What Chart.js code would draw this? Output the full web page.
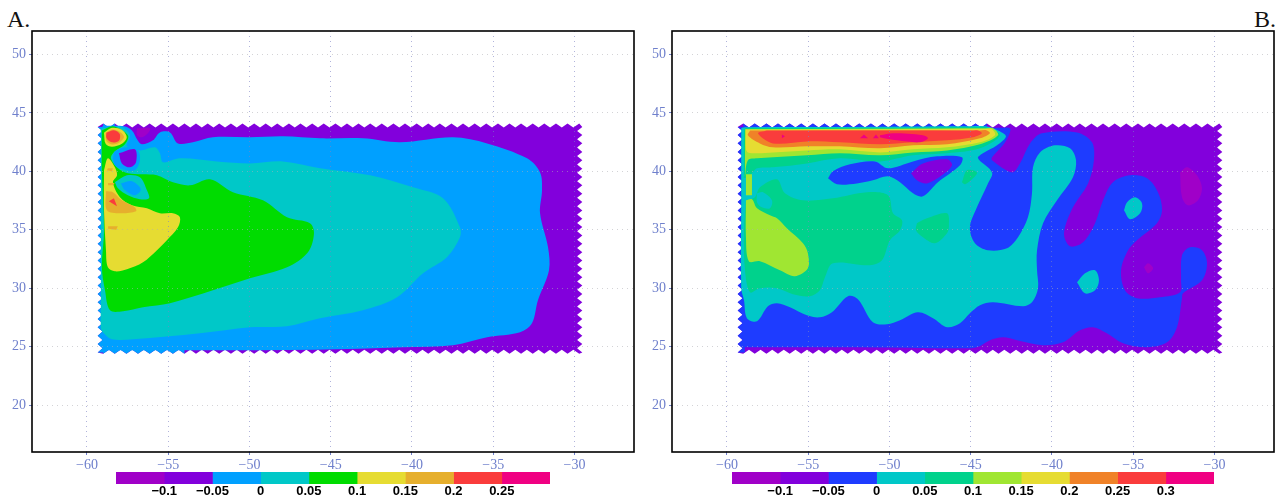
<!DOCTYPE html>
<html><head><meta charset="utf-8">
<style>
html,body{margin:0;padding:0;background:#fff;width:1283px;height:500px;overflow:hidden}
canvas{position:absolute;display:block}
.tag{position:absolute;font-family:"Liberation Serif",serif;font-size:24px;line-height:24px;color:#111}
</style>
<script src="https://cdn.jsdelivr.net/npm/chart.js@4/dist/chart.umd.min.js"></script>
</head><body>
<div class="tag" style="left:7px;top:7px">A.</div>
<div class="tag" style="left:1254px;top:7px">B.</div>
<canvas id="pa" width="640" height="475" style="left:0;top:0"></canvas>
<canvas id="pb" width="643" height="475" style="left:640px;top:0"></canvas>
<canvas id="ca" width="470" height="30" style="left:100px;top:470px"></canvas>
<canvas id="cb" width="520" height="30" style="left:716px;top:470px"></canvas>
<script>
// colours
const PURPLE='#8200dc',MAGENTA='#a000c8',BLUE='#00a0ff',DEEP='#1e3cff',TEAL='#00c8c8',SEA='#00d28c',GREEN='#00dc00',LIME='#a0e632',YELLOW='#e6dc32',AMBER='#e6af2d',ORANGE='#f08228',RED='#fa3c3c',PINK='#f00082';

// axis ticks
const lonTicks=[-60,-55,-50,-45,-40,-35,-30];
const latTicks=[20,25,30,35,40,45,50];

// colour bars
const levelsA=[-0.15,-0.1,-0.05,0,0.05,0.1,0.15,0.2,0.25,0.3];
const barColorsA=[MAGENTA,PURPLE,BLUE,TEAL,GREEN,YELLOW,AMBER,RED,PINK];
const levelsB=[-0.15,-0.1,-0.05,0,0.05,0.1,0.15,0.2,0.25,0.3,0.35];
const barColorsB=[MAGENTA,PURPLE,DEEP,TEAL,SEA,LIME,YELLOW,ORANGE,RED,PINK];

// sawtooth grid cells of the data domain
const cellLon=[-59,-58.29,-57.57,-56.86,-56.14,-55.43,-54.71,-54,-53.29,-52.57,-51.86,-51.14,-50.43,-49.71,-49,-48.29,-47.57,-46.86,-46.14,-45.43,-44.71,-44,-43.29,-42.57,-41.86,-41.14,-40.43,-39.71,-39,-38.29,-37.57,-36.86,-36.14,-35.43,-34.71,-34,-33.29,-32.57,-31.86,-31.14,-30.43,-29.71];
const cellLat=[43.8,43.1,42.4,41.66,40.94,40.23,39.51,38.8,38.09,37.37,36.66,35.94,35.23,34.51,33.8,33.09,32.37,31.66,30.94,30.23,29.51,28.8,28.09,27.37,26.66,25.94,25.23,24.51];

// Panel A contours [lon,lat]
const aBlue=[[-58.9,43.9],[-57.72,43.85],[-57.23,43.5],[-56.9,42.7],[-56.62,42.31],[-55.94,42.65],[-55.51,43.33],[-54.89,43.33],[-54.4,42.39],[-53.48,42.48],[-52.25,42.91],[-49.97,42.91],[-47.94,42.99],[-45.66,42.82],[-43.02,42.82],[-40.74,42.48],[-37.48,42.91],[-35.38,42.39],[-32.92,41.11],[-32.12,39.91],[-32,38.38],[-32.12,36.41],[-31.63,33.5],[-31.57,31.54],[-32.25,28.97],[-32.62,27.01],[-33.35,26.24],[-35.38,25.81],[-37.48,25.13],[-40.55,24.96],[-46,24.75],[-53,24.7],[-58.9,24.7],[-59,24.7],[-59.05,24.75],[-59.05,24.9],[-59.05,35],[-59.05,43.7],[-59.05,43.85],[-59,43.9],[-58.9,43.9]];
const aMagentaTop=[[-56.92,43.68],[-56.12,43.68],[-56.25,43.25],[-56.62,42.91],[-56.92,43.08],[-56.92,43.68]];
const aCyan=[[-58.5,43.74],[-57.85,43.76],[-57.35,43.08],[-57.54,42.14],[-56.74,41.79],[-55.82,42.05],[-55.51,41.54],[-55.32,40.77],[-54.28,41.11],[-52,40.85],[-49.97,40.68],[-47.94,40.85],[-45.66,40.26],[-42.58,39.66],[-39.94,38.63],[-38.09,37.69],[-37.05,35.21],[-37.05,34.36],[-37.85,32.65],[-39.32,31.28],[-40.92,29.23],[-43.02,28.12],[-45.66,27.44],[-47.69,26.75],[-49.97,26.67],[-53.05,26.15],[-57.17,25.64],[-58.46,25.64],[-59.02,26.24],[-59.14,26.6],[-59.14,28.97],[-59.14,36],[-59.14,43.3],[-59.14,43.6],[-59,43.7],[-58.5,43.74]];
const aGreen=[[-59.08,43.5],[-58.4,43.85],[-57.48,43.08],[-57.66,42.31],[-58.28,41.71],[-58.52,41.11],[-58.09,40.26],[-57.48,39.83],[-56.62,39.74],[-55.69,39.66],[-54.71,39.06],[-53.66,38.8],[-52.43,39.32],[-51.02,38.21],[-49.17,37.52],[-47.69,36.07],[-46.28,35.56],[-46.03,34.7],[-46.4,33.08],[-47.69,31.79],[-49.97,30.85],[-52.25,29.83],[-54.89,28.72],[-56.55,28.38],[-57.78,28.03],[-58.58,28.12],[-58.89,29.83],[-59.08,31.79],[-58.95,34.96],[-59.08,40.09],[-59.08,43.5]];
const aBluePatch=[[-58.4,41.11],[-58.28,41.71],[-57.54,42.05],[-56.86,41.79],[-56.74,40.94],[-57.05,40.09],[-57.85,40.17],[-58.28,40.51],[-58.4,41.11]];
const aPurpleBlob=[[-58.03,41.54],[-57.05,41.88],[-56.98,40.77],[-57.35,40.34],[-57.85,40.68],[-58.03,41.54]];
const aCyanPatch=[[-58.28,39.06],[-57.54,39.66],[-56.74,39.49],[-56.31,38.38],[-56.18,37.69],[-56.74,37.61],[-57.48,37.95],[-58.09,38.55],[-58.28,39.06]];
const aBlueInner=[[-57.91,38.97],[-57.23,39.15],[-56.68,38.46],[-57.05,37.95],[-57.66,38.38],[-57.91,38.97]];
const aYellow=[[-58.95,40.09],[-58.71,41.11],[-58.28,40.34],[-58.15,39.66],[-58.4,39.06],[-57.97,37.78],[-57.23,37.09],[-56.31,36.84],[-55.51,36.41],[-54.71,36.41],[-54.28,36.07],[-54.4,35.21],[-55.08,34.1],[-55.69,33.25],[-56.55,32.22],[-57.54,31.62],[-58.28,31.45],[-58.71,31.79],[-58.83,33.25],[-58.95,36.67],[-58.95,40.09]];
const aAmber=[[-58.83,38.29],[-58.4,38.21],[-57.85,37.52],[-57.05,36.92],[-56.98,36.58],[-57.97,36.41],[-58.77,36.67],[-58.83,38.29]];
const aRedTip=[[-58.65,37.44],[-58.34,37.69],[-58.15,37.01],[-58.65,37.44]];
const aAmberDot1=[[-58.71,40.26],[-58.4,40.26],[-58.46,40],[-58.77,40.09],[-58.71,40.26]];
const aAmberDot2=[[-58.7,39.0],[-58.3,39.0],[-58.4,38.8],[-58.7,38.8],[-58.7,39.0]];
const aAmberDot3=[[-58.7,35.3],[-58.1,35.3],[-58.2,35.0],[-58.7,35.1],[-58.7,35.3]];
const aRingYellow=[[-58.95,43.3],[-58.46,43.72],[-57.85,43.55],[-57.55,42.91],[-57.85,42.35],[-58.46,42.1],[-58.85,42.35],[-58.95,43.3]];
const aRingAmber=[[-58.85,43.3],[-58.4,43.58],[-57.9,43.3],[-57.72,42.91],[-58.03,42.44],[-58.46,42.3],[-58.8,42.6],[-58.85,43.3]];
const aRingRed=[[-58.8,43.3],[-58.34,43.52],[-57.98,43.2],[-58.03,42.62],[-58.46,42.48],[-58.8,42.85],[-58.8,43.3]];

// Panel B contours [lon,lat]
const bDeep=[[-58.9,43.76],[-50,43.75],[-43.2,43.72],[-42.58,43.68],[-42.65,43.08],[-43.02,42.22],[-43.69,41.2],[-43.69,40.94],[-42.46,39.91],[-41.97,40.68],[-41.35,42.39],[-40.62,43.25],[-38.46,43.33],[-37.54,42.48],[-37.42,40.94],[-37.78,38.97],[-38.71,36.92],[-39.26,34.7],[-38.89,33.59],[-38.09,33.93],[-37.35,35.56],[-36.86,37.52],[-36.25,39.06],[-35.2,39.66],[-34.15,39.4],[-33.48,38.21],[-33.23,36.67],[-33.54,35.56],[-34.77,34.1],[-35.32,33.25],[-35.75,31.54],[-35.51,29.83],[-34.77,29.15],[-33.35,29.23],[-32.12,29.66],[-32.06,30.68],[-32,32.82],[-31.51,33.5],[-30.77,33.25],[-30.46,32.14],[-30.77,30.68],[-31.94,29.57],[-32,29.15],[-32.31,26.67],[-32.92,25.38],[-34.15,24.96],[-35.63,25.3],[-36.62,26.15],[-37.48,26.67],[-38.28,26.41],[-39.32,25.38],[-40.55,25.13],[-42.15,25.56],[-43.02,25.81],[-43.82,25.56],[-44.62,24.96],[-45.66,24.87],[-52,24.96],[-58.8,24.96],[-59,24.96],[-59.02,25.1],[-59.02,35],[-59.02,43.5],[-59.02,43.7],[-58.9,43.76]];
const bMagenta1=[[-32.12,39.91],[-31.69,40.34],[-31.08,39.66],[-30.77,38.55],[-31.02,37.52],[-31.63,37.09],[-32,37.78],[-32.12,39.91]];
const bMagenta2=[[-34.34,31.79],[-34.09,32.14],[-33.78,31.71],[-34.09,31.28],[-34.34,31.79]];
const bTeal=[[-58.9,43.78],[-50,43.82],[-45.66,43.85],[-44.12,43.85],[-43.32,43.5],[-42.83,42.99],[-43.38,42.22],[-44.25,41.54],[-44.55,41.11],[-43.69,39.91],[-43.94,38.97],[-44.62,36.92],[-45.05,35.21],[-44.74,33.85],[-43.94,33.25],[-42.77,33.42],[-42.09,34.36],[-41.48,36.07],[-41.23,38.12],[-41.17,40.34],[-40.74,41.62],[-39.82,42.22],[-38.89,41.97],[-38.52,40.94],[-38.71,39.49],[-39.69,37.52],[-40.55,35.56],[-40.92,33.25],[-40.92,31.54],[-40.86,30],[-41.23,28.8],[-41.78,28.46],[-43.63,28.8],[-44.43,28.55],[-45.05,27.86],[-45.66,27.01],[-46.46,26.67],[-47.32,27.44],[-48.25,27.95],[-49.35,27.26],[-50.15,26.92],[-51.02,27.09],[-51.94,29.06],[-52.55,29.32],[-53.54,27.95],[-54.28,27.52],[-55.08,27.69],[-56.12,28.38],[-56.92,28.72],[-57.48,28.46],[-58.15,27.18],[-58.77,27.44],[-58.95,28.97],[-59.12,30],[-59.12,37.52],[-59.12,43.4],[-59.1,43.7],[-58.9,43.78]];
const bSeaBand=[[-58.89,43.68],[-58.7,43.7],[-50,43.72],[-44.6,43.76],[-44.12,43.76],[-43.2,43.08],[-44.43,41.97],[-46.46,41.54],[-48.55,41.37],[-50.58,40.85],[-53.05,41.11],[-55.08,40.68],[-57.17,40.34],[-58.15,40.26],[-58.58,39.66],[-58.95,39.4],[-58.95,39.7],[-58.95,43.4],[-58.89,43.68]];
const bSeaMain=[[-58.83,37.52],[-58.28,37.78],[-57.97,38.63],[-56.92,39.32],[-56.43,38.12],[-55.32,37.52],[-53.48,37.69],[-51.38,38.21],[-50.09,37.95],[-49.78,36.41],[-49.23,35.81],[-49.35,34.96],[-49.97,34.1],[-50.46,32.39],[-51.2,31.97],[-53.48,32.14],[-53.97,30.94],[-54.28,29.83],[-54.89,29.32],[-55.94,29.49],[-56.92,30],[-57.97,30],[-58.58,29.66],[-58.89,31.54],[-58.95,34.96],[-58.83,37.52]];
const bDeepBlob=[[-53.78,39.4],[-53.48,40],[-52.43,40.6],[-50.89,40.85],[-50.09,40.26],[-48.55,40.85],[-47.08,41.28],[-45.54,41.2],[-45.66,40.51],[-47.02,39.06],[-47.94,37.86],[-48.55,38.12],[-49.35,39.06],[-50.09,39.57],[-51.02,39.23],[-52,38.97],[-53.23,38.89],[-53.78,39.4]];
const bPurpleBlob=[[-48.68,39.83],[-47.94,40.68],[-46.46,41.03],[-46.15,40.51],[-46.77,39.66],[-47.69,38.97],[-48.31,39.23],[-48.68,39.83]];
const bSeaPatch1=[[-48.31,35.56],[-47.69,35.98],[-46.46,36.41],[-46.34,35.38],[-46.46,34.7],[-47.2,33.85],[-47.94,34.36],[-48.37,34.96],[-48.31,35.56]];
const bSeaPatch2=[[-45.54,39.06],[-45.23,40.09],[-44.62,39.91],[-44.86,39.4],[-45.35,38.89],[-45.54,39.06]];
const bTealPatch=[[-58.15,38.12],[-57.78,38.21],[-57.23,37.52],[-57.35,36.84],[-57.85,36.92],[-58.15,37.35],[-58.15,38.12]];
const bTealDot1=[[-35.57,36.67],[-35.38,37.35],[-34.89,37.78],[-34.46,37.26],[-34.58,36.41],[-35.2,35.9],[-35.57,36.67]];
const bTealDot2=[[-38.46,30.51],[-37.97,31.28],[-37.35,31.54],[-37.11,30.68],[-37.35,29.83],[-37.97,29.57],[-38.46,30.51]];
const bLimeBand=[[-58.89,43.6],[-58.7,43.62],[-50,43.65],[-44.1,43.68],[-43.63,43.68],[-43.32,43.08],[-44.43,42.31],[-46.46,41.79],[-48.55,41.62],[-50.58,41.37],[-53.05,41.54],[-55.08,41.37],[-57.17,41.2],[-58.15,41.11],[-58.71,40.94],[-58.89,39.57],[-58.89,39.9],[-58.89,43.3],[-58.89,43.6]];
const bLimeMain=[[-58.83,37.52],[-58.46,37.61],[-58.15,36.84],[-57.35,36.24],[-56.92,35.98],[-56.31,35.13],[-55.32,33.85],[-55.02,33],[-55.02,31.71],[-55.82,31.03],[-56.74,31.54],[-57.97,32.31],[-58.65,32.31],[-58.83,34.36],[-58.83,37.52]];
const bLimeSmall=[[-58.83,39.74],[-58.46,39.74],[-58.46,37.95],[-58.83,37.95],[-58.83,39.74]];
const bYellowBand=[[-58.83,43.55],[-58.6,43.56],[-50,43.58],[-44.2,43.59],[-43.69,43.59],[-43.51,43.08],[-44.43,42.48],[-46.46,42.05],[-48.55,41.88],[-50.58,41.62],[-53.05,41.88],[-55.08,41.79],[-57.17,41.62],[-58.15,41.54],[-58.71,41.62],[-58.83,41.9],[-58.83,43.3],[-58.83,43.55]];
const bOrangeBand=[[-58.58,43.5],[-58.3,43.5],[-50,43.52],[-44.5,43.5],[-44,43.5],[-43.82,43.25],[-44.43,42.82],[-46.46,42.31],[-48.55,42.22],[-50.58,41.97],[-53.05,42.14],[-55.08,42.14],[-57.17,42.05],[-57.97,42.39],[-58.71,43.08],[-58.58,43.5]];
const bRedBand=[[-57.54,43.5],[-57.2,43.5],[-50,43.5],[-45,43.5],[-44.55,43.5],[-44.31,43.25],[-44.86,42.91],[-46.46,42.65],[-48.55,42.48],[-50.58,42.31],[-53.05,42.48],[-55.08,42.56],[-57.17,42.39],[-58.09,43.25],[-57.54,43.5]];
const bPinkCore=[[-50.58,43.08],[-49.78,43.25],[-47.94,43.08],[-47.63,42.82],[-48.12,42.48],[-49.54,42.65],[-50.58,42.91],[-50.58,43.08]];
const bPinkDot1=[[-51.82,42.82],[-51.57,43.16],[-51.32,42.82],[-51.82,42.82]];
const bPinkDot2=[[-51.02,42.82],[-50.83,43.16],[-50.65,42.82],[-51.02,42.82]];
const bPinkDot3=[[-56.62,43.16],[-56.43,42.99],[-56.62,42.82],[-56.62,43.16]];

// sawtooth outline parameters
const edge={topPeak:44.08,topValley:43.74,botPeak:24.4,botValley:24.74,leftPeak:-59.34,leftValley:-59.04,rightPeak:-29.52,rightValley:-29.84,half:0.357};

function trim(o){return o.slice(0,-1);}
function topRun(a,b){const o=[];cellLon.filter(v=>v>=a&&v<=b).forEach(v=>{o.push([v,edge.topPeak],[v+edge.half,edge.topValley]);});return trim(o);}
function botRun(a,b){const o=[];cellLon.filter(v=>v>=a&&v<=b).forEach(v=>{o.push([v,edge.botPeak],[v+edge.half,edge.botValley]);});return trim(o);}
function leftRun(a,b){const o=[];cellLat.filter(v=>v>=a&&v<=b).forEach(v=>{o.push([edge.leftPeak,v],[edge.leftValley,v-edge.half]);});return trim(o);}
function rightRun(){const o=[];cellLat.forEach(v=>{o.push([edge.rightPeak,v],[edge.rightValley,v-edge.half]);});return trim(o);}
function outline(){
  const t=topRun(-60,-29),b=botRun(-60,-29).reverse(),l=leftRun(24,44).reverse();
  return [...t,...rightRun(),...b,...l,t[0]];
}
function leftStrip(a,b){const r=leftRun(a,b);return [...r,[-58.9,r[r.length-1][1]],[-58.9,r[0][1]],r[0]];}
function topStrip(a,b){const r=topRun(a,b);return [...r,[r[r.length-1][0],43.5],[r[0][0],43.5],r[0]];}
function botStrip(a,b){const r=botRun(a,b);return [...r,[r[r.length-1][0],25],[r[0][0],25],r[0]];}

const S=0.33; // curve smoothing
const layersA=[
 [outline(),PURPLE,0],
 [leftStrip(24,44),BLUE,0],[topStrip(-60,-57.6),BLUE,0],[botStrip(-60,-53.5),BLUE,0],
 [aBlue,BLUE,S],[aMagentaTop,MAGENTA,S],[aCyan,TEAL,S],[aGreen,GREEN,S],
 [aBluePatch,BLUE,S],[aPurpleBlob,PURPLE,S],[aCyanPatch,TEAL,S],[aBlueInner,BLUE,S],
 [aYellow,YELLOW,S],[aAmber,AMBER,S],[aRedTip,RED,0],[aAmberDot1,AMBER,0],[aAmberDot2,AMBER,0],[aAmberDot3,AMBER,0],
 [aRingYellow,YELLOW,S],[aRingAmber,AMBER,S],[aRingRed,RED,S]
];
const layersB=[
 [outline(),PURPLE,0],
 [leftStrip(24,44),DEEP,0],[topStrip(-60,-44),DEEP,0],
 [bDeep,DEEP,S],[bMagenta1,MAGENTA,S],[bMagenta2,MAGENTA,S],[bTeal,TEAL,S],
 [bSeaBand,SEA,S],[bSeaMain,SEA,S],[bDeepBlob,DEEP,S],[bPurpleBlob,PURPLE,S],
 [bSeaPatch1,SEA,S],[bSeaPatch2,SEA,S],[bTealPatch,TEAL,S],[bTealDot1,TEAL,S],[bTealDot2,TEAL,S],
 [bLimeBand,LIME,S],[bLimeMain,LIME,S],[bLimeSmall,LIME,0],[bYellowBand,YELLOW,S],[bOrangeBand,ORANGE,S],[bRedBand,RED,S],
 [bPinkCore,PINK,S],[bPinkDot1,PINK,0],[bPinkDot2,PINK,0],[bPinkDot3,PINK,0]
];

const frame={id:'frame',afterDraw(c){const a=c.chartArea,x=c.ctx;x.save();x.strokeStyle='#000';x.lineWidth=1.6;x.strokeRect(a.left,a.top,a.right-a.left,a.bottom-a.top);x.restore();}};
const TICK='#6f80cc';
const fnt={family:'"Liberation Serif",serif',size:14};
const minus=v=>String(v).replace('-','\u2212');

function panel(id,layers,rightPad){
  const ds=layers.map(([p,col,t])=>({data:p.map(([x,y])=>({x,y})),showLine:true,fill:'shape',backgroundColor:col,borderColor:col,borderWidth:0,pointRadius:0,tension:t})).reverse();
  new Chart(document.getElementById(id),{type:'scatter',data:{datasets:ds},plugins:[frame],options:{
    responsive:false,animation:false,events:[],
    layout:{padding:{top:31,right:rightPad,left:0,bottom:0}},
    plugins:{legend:{display:false},tooltip:{enabled:false}},
    scales:{
      x:{type:'linear',min:-63.38,max:-26.34,
        afterFit(s){s.height=23;},
        afterBuildTicks(s){s.ticks=lonTicks.map(value=>({value}));},
        border:{display:false,dash:[1,4]},
        grid:{z:1,color:'rgba(125,130,195,.6)',tickColor:TICK,tickBorderDash:[1,0],tickLength:3,lineWidth:1},
        ticks:{color:TICK,font:fnt,padding:2,maxRotation:0,autoSkip:false,includeBounds:false,callback:minus}},
      y:{type:'linear',min:16,max:52,
        afterFit(s){s.width=32;},
        afterBuildTicks(s){s.ticks=latTicks.map(value=>({value}));},
        border:{display:false,dash:[1,4]},
        grid:{z:1,color:'rgba(175,175,180,.55)',tickColor:TICK,tickBorderDash:[1,0],tickLength:3,lineWidth:1},
        ticks:{color:TICK,font:fnt,padding:3,autoSkip:false,includeBounds:false,callback:minus}}
    }}});
}
function colorBar(id,levels,colors,padL,padR){
  const ds=colors.map((c,i)=>({data:[[levels[i],levels[i+1]]],backgroundColor:c,borderWidth:0,barPercentage:1,categoryPercentage:1,grouped:false}));
  const inner=levels.slice(1,-1);
  new Chart(document.getElementById(id),{type:'bar',data:{labels:['level'],datasets:ds},options:{
    indexAxis:'y',responsive:false,animation:false,events:[],
    layout:{padding:{top:2,left:padL,right:padR,bottom:0}},
    plugins:{legend:{display:false},tooltip:{enabled:false}},
    scales:{
      y:{display:false},
      x:{type:'linear',min:levels[0],max:levels[levels.length-1],
        afterFit(s){s.height=16;},
        afterBuildTicks(s){s.ticks=inner.map(value=>({value}));},
        border:{display:false},grid:{display:false,drawTicks:false},
        ticks:{color:'#000',font:{family:'"Liberation Sans",sans-serif',size:13,weight:'bold'},padding:0,maxRotation:0,autoSkip:false,callback:minus}}
    }}});
}
panel('pa',layersA,6);
panel('pb',layersB,9);
colorBar('ca',levelsA,barColorsA,16,20);
colorBar('cb',levelsB,barColorsB,16,22);
</script>
</body></html>
